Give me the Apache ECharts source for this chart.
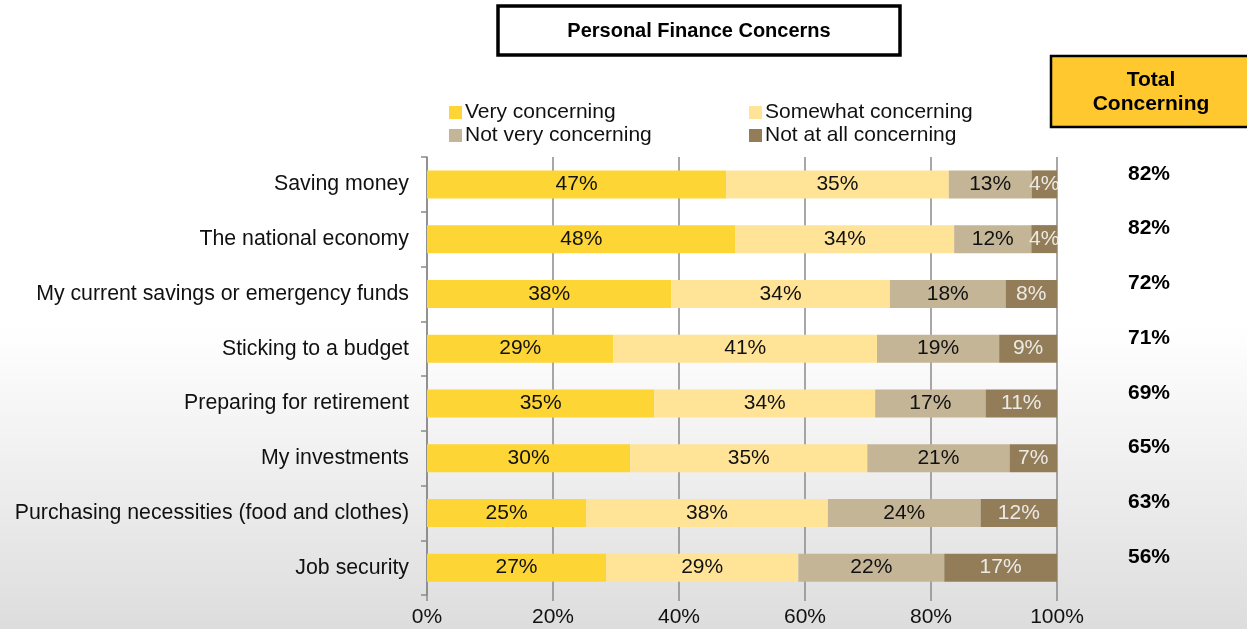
<!DOCTYPE html>
<html>
<head>
<meta charset="utf-8">
<title>Personal Finance Concerns</title>
<script src="https://cdn.jsdelivr.net/npm/echarts@6/dist/echarts.min.js"></script>
<style>
  html, body { margin: 0; padding: 0; }
  #chart { width: 1247px; height: 629px; }
</style>
</head>
<body>
<div id="chart"></div>
<script>
// Survey items, top to bottom
const categories = [
  'Saving money',
  'The national economy',
  'My current savings or emergency funds',
  'Sticking to a budget',
  'Preparing for retirement',
  'My investments',
  'Purchasing necessities (food and clothes)',
  'Job security'
];

// Response shares (%) per item
const veryConcerning     = [47, 48, 38, 29, 35, 30, 25, 27];
const somewhatConcerning = [35, 34, 34, 41, 34, 35, 38, 29];
const notVeryConcerning  = [13, 12, 18, 19, 17, 21, 24, 22];
const notAtAllConcerning = [4, 4, 8, 9, 11, 7, 12, 17];

// Very + somewhat concerning, as reported
const totalConcerning = [82, 82, 72, 71, 69, 65, 63, 56];

const xTickValues = [0, 20, 40, 60, 80, 100];

const FONT = "'Liberation Sans', Arial, sans-serif";
const FS = 21;

const responseSeries = [
  { name: 'Very concerning',       values: veryConcerning,     color: '#FDD535', labelColor: '#111' },
  { name: 'Somewhat concerning',   values: somewhatConcerning, color: '#FFE397', labelColor: '#111' },
  { name: 'Not very concerning',   values: notVeryConcerning,  color: '#C4B596', labelColor: '#111' },
  { name: 'Not at all concerning', values: notAtAllConcerning, color: '#937D58', labelColor: '#ECEAE6' }
];

// Each bar is scaled to fill 100% of its row
const rowSums = categories.map((_, i) =>
  responseSeries.reduce((s, r) => s + r.values[i], 0));

const chart = echarts.init(document.getElementById('chart'), null, { renderer: 'canvas' });

const legendStyle = {
  orient: 'vertical', top: 102, padding: 0,
  itemWidth: 13, itemHeight: 13, itemGap: 2,
  icon: 'rect',
  textStyle: { fontSize: FS, color: '#111', fontFamily: FONT, padding: [0, 0, 0, -2] }
};

const option = {
  animation: false,
  backgroundColor: {
    type: 'linear', x: 0, y: 0, x2: 0, y2: 1,
    colorStops: [
      { offset: 0, color: '#ffffff' },
      { offset: 0.52, color: '#ffffff' },
      { offset: 1, color: '#dddddd' }
    ]
  },
  textStyle: { fontFamily: FONT },
  graphic: [
    {
      type: 'rect',
      shape: { x: 498, y: 6, width: 402, height: 49 },
      style: { fill: '#ffffff', stroke: '#000000', lineWidth: 3.5 }
    },
    {
      type: 'text',
      x: 699, y: 31,
      style: {
        text: 'Personal Finance Concerns',
        fill: '#000', font: "bold 20px 'Liberation Sans', Arial, sans-serif",
        align: 'center', verticalAlign: 'middle'
      }
    },
    {
      type: 'rect',
      shape: { x: 1051, y: 56, width: 205, height: 71 },
      style: { fill: '#FFC82E', stroke: '#000000', lineWidth: 2.5 }
    },
    {
      type: 'text',
      x: 1151, y: 92,
      style: {
        text: 'Total\nConcerning',
        fill: '#000', font: "bold 21px 'Liberation Sans', Arial, sans-serif",
        lineHeight: 24,
        align: 'center', verticalAlign: 'middle'
      }
    }
  ],
  legend: [
    Object.assign({ data: ['Very concerning', 'Not very concerning'], left: 449 }, legendStyle),
    Object.assign({ data: ['Somewhat concerning', 'Not at all concerning'], left: 749 }, legendStyle)
  ],
  grid: { left: 427, right: 190, top: 157, bottom: 34, containLabel: false },
  xAxis: {
    type: 'value',
    min: xTickValues[0],
    max: xTickValues[xTickValues.length - 1],
    interval: xTickValues[1] - xTickValues[0],
    axisLine: { show: false },
    axisTick: { show: true, length: 6, lineStyle: { color: '#8a8a8a', width: 1.5 } },
    splitLine: { show: true, lineStyle: { color: '#8a8a8a', width: 1.5 } },
    axisLabel: {
      formatter: '{value}%', fontSize: FS, color: '#111', margin: 12, fontFamily: FONT
    }
  },
  yAxis: [
    {
      type: 'category',
      data: categories,
      inverse: true,
      axisLine: { show: true, lineStyle: { color: '#8a8a8a', width: 1.5 } },
      axisTick: { show: true, length: 6, lineStyle: { color: '#8a8a8a', width: 1.5 } },
      axisLabel: { fontSize: 21.3, color: '#111', margin: 18, fontFamily: FONT }
    },
    {
      type: 'category',
      data: totalConcerning.map(v => v + '%'),
      inverse: true,
      position: 'right',
      axisLine: { show: false },
      axisTick: { show: false },
      axisLabel: {
        fontSize: FS, fontWeight: 'bold', color: '#000', margin: 71,
        verticalAlign: 'bottom', fontFamily: FONT
      }
    }
  ],
  series: responseSeries.map(r => ({
    name: r.name,
    type: 'bar',
    stack: 'share',
    yAxisIndex: 0,
    barWidth: 28,
    itemStyle: { color: r.color },
    data: r.values.map((v, i) => v / rowSums[i] * 100),
    label: {
      show: true,
      position: 'inside',
      fontSize: FS,
      color: r.labelColor,
      fontFamily: FONT,
      formatter: p => r.values[p.dataIndex] + '%'
    },
    emphasis: { disabled: true }
  }))
};

chart.setOption(option);
</script>
</body>
</html>
